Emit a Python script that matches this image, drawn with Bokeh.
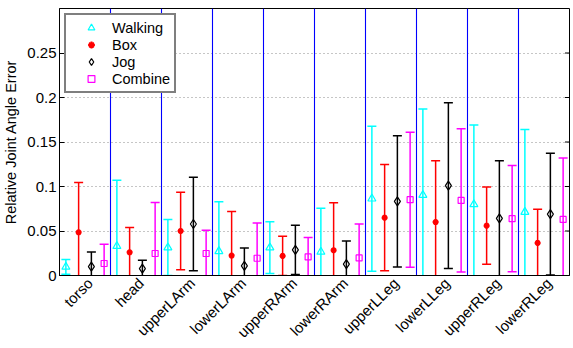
import numpy as np
from bokeh.plotting import figure
from bokeh.models import (Range1d, FixedTicker, Span, Legend, LegendItem,
                          NumeralTickFormatter)
from bokeh.embed import file_html
from bokeh.resources import INLINE

joints = ["torso", "head", "upperLArm", "lowerLArm", "upperRArm", "lowerRArm",
          "upperLLeg", "lowerLLeg", "upperRLeg", "lowerRLeg"]
walking_mean = [0.0097, 0.033, 0.0314, 0.0272, 0.0314, 0.0265, 0.0863, 0.0904, 0.080, 0.0713]
walking_err = [0.0083, 0.074, 0.0314, 0.0558, 0.0291, 0.049, 0.0814, 0.0966, 0.089, 0.0927]
box_mean = [0.0485, 0.026, 0.050, 0.0224, 0.022, 0.0284, 0.065, 0.060, 0.056, 0.0366]
box_err = [0.056, 0.028, 0.0434, 0.0496, 0.022, 0.0534, 0.0598, 0.069, 0.0433, 0.0377]
jog_mean = [0.010, 0.0078, 0.0579, 0.0108, 0.0287, 0.0127, 0.0833, 0.1009, 0.0642, 0.069]
jog_err = [0.0165, 0.0092, 0.0525, 0.0202, 0.0277, 0.0261, 0.0737, 0.0931, 0.0648, 0.0684]
combine_mean = [0.0135, 0.0247, 0.0247, 0.0194, 0.0209, 0.0197, 0.0852, 0.0844, 0.0639, 0.063]
combine_err = [0.0215, 0.0573, 0.0261, 0.0396, 0.0217, 0.0383, 0.0758, 0.0806, 0.0598, 0.069]
series_names = ["Walking", "Box", "Jog", "Combine"]
y_ticks = [0, 0.05, 0.1, 0.15, 0.2, 0.25]

FONT = "Liberation Sans"

x_start, x_end = 0.5, len(joints) + 0.5
p = figure(frame_width=510, frame_height=267,
           x_range=Range1d(x_start, x_end), y_range=Range1d(0, 0.3),
           output_backend="svg", toolbar_location=None,
           min_border_left=54, min_border_right=1, min_border_top=8, min_border_bottom=60)
p.background_fill_color = "white"
p.border_fill_color = "white"
p.outline_line_color = "black"
p.outline_line_width = 1
p.xgrid.visible = False
p.ygrid.grid_line_color = "#8c8c8c"
p.ygrid.grid_line_dash = "1 3"
p.ygrid.grid_line_width = 1

cat_pos = np.arange(1, len(joints) + 1)

# x axis: rotated labels, anchored slightly right of each group centre (MATLAB style)
label_pos = [float(c) + 0.1 for c in cat_pos]
p.xaxis.ticker = FixedTicker(ticks=label_pos)
p.xaxis.major_label_overrides = {lp: n for lp, n in zip(label_pos, joints)}
p.xaxis.major_label_orientation = np.pi / 4
p.xaxis.major_tick_in = 0
p.xaxis.major_tick_out = 0
p.xaxis.minor_tick_line_color = None
p.xaxis.major_label_standoff = 5
p.xaxis.major_label_text_font = FONT
p.xaxis.major_label_text_font_size = "15px"
p.xaxis.major_label_text_color = "black"
p.xaxis.axis_line_color = "black"

# y axis
p.yaxis.ticker = FixedTicker(ticks=y_ticks)
p.yaxis.formatter = NumeralTickFormatter(format="0.[00]")
p.yaxis.major_tick_in = 5
p.yaxis.major_tick_out = 0
p.yaxis.major_tick_line_color = "black"
p.yaxis.minor_tick_line_color = None
p.yaxis.major_label_standoff = 3
p.yaxis.major_label_text_font = FONT
p.yaxis.major_label_text_font_size = "15px"
p.yaxis.major_label_text_color = "black"
p.yaxis.axis_line_color = "black"
p.yaxis.axis_label = "Relative Joint Angle Error"
p.yaxis.axis_label_text_font = FONT
p.yaxis.axis_label_text_font_size = "14.5px"
p.yaxis.axis_label_text_font_style = "normal"
p.yaxis.axis_label_text_color = "black"
p.yaxis.axis_label_standoff = 5

# mirrored ticks on the right edge (half of each dash falls inside the frame)
p.scatter([x_end] * len(y_ticks), y_ticks, marker="dash", size=9,
          line_color="black", line_width=1)

# blue separators between joint groups
for k in cat_pos[:-1]:
    p.add_layout(Span(location=float(k) + 0.5, dimension="height", line_color="blue",
                      line_width=1.1, level="underlay"))

series = [
    (series_names[0], walking_mean, walking_err, "#00ffff", "triangle", 8, False),
    (series_names[1], box_mean, box_err, "#ff0000", "asterisk", 6, True),
    (series_names[2], jog_mean, jog_err, "black", "diamond", 9, False),
    (series_names[3], combine_mean, combine_err, "#ff00ff", "square", 6, False),
]
offsets = [-0.375, -0.125, 0.125, 0.375]

items = []
for (name, mean, err, color, marker, size, filled), off in zip(series, offsets):
    xs = cat_pos + off
    mean = np.array(mean)
    err = np.array(err)
    upper = mean + err
    lower = mean - err
    p.segment(x0=xs, y0=lower, x1=xs, y1=upper, line_color=color, line_width=1.5)
    p.scatter(xs, upper, marker="dash", size=9, line_color=color, line_width=1.5)
    p.scatter(xs, lower, marker="dash", size=9, line_color=color, line_width=1.5)
    if filled:
        r = p.scatter(xs, mean, marker=marker, size=size, line_color=color,
                      fill_color=color, line_width=2)
    else:
        r = p.scatter(xs, mean, marker=marker, size=size, line_color=color,
                      fill_color="white", fill_alpha=0, line_width=1.2)
    items.append(LegendItem(label=name, renderers=[r]))

legend = Legend(items=items, location="top_left", margin=5, padding=4, spacing=0,
                glyph_width=42, glyph_height=17, label_height=17, label_standoff=0,
                border_line_color="black", border_line_width=2,
                background_fill_color="white", background_fill_alpha=1,
                label_text_font=FONT, label_text_font_size="14.5px",
                label_text_color="black")
p.add_layout(legend)

open("out.html", "w").write(file_html(p, INLINE))
